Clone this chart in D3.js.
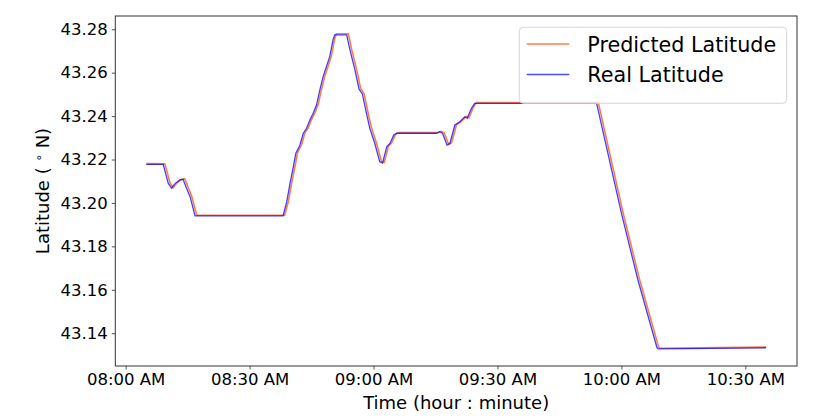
<!DOCTYPE html>
<html><head><meta charset="utf-8">
<script src="https://cdn.jsdelivr.net/npm/d3@7"></script>
<style>body{margin:0;background:#fff}svg{display:block;font-family:"DejaVu Sans",sans-serif}</style>
</head><body><svg id="c" width="831" height="419"></svg>
<script>
const realTimes = ["08:05:00","08:09:06","08:10:18","08:11:06","08:11:54","08:13:06","08:13:54","08:14:36","08:15:36","08:16:48",
"08:38:06","08:39:00","08:39:48","08:40:36","08:41:12","08:42:12","08:43:00","08:43:48","08:44:36","08:45:24",
"08:46:12","08:47:00","08:47:48","08:48:36","08:49:24","08:50:12","08:50:36","08:53:30","08:54:18","08:55:30",
"08:56:30","08:57:18","08:58:18","08:59:06","09:00:18","09:01:30","09:02:12","09:03:12","09:04:00","09:04:54",
"09:05:36","09:15:12","09:16:00","09:16:42","09:17:48","09:18:30","09:19:42","09:20:54","09:22:06","09:22:42",
"09:23:42","09:24:30","09:54:00","10:00:00","10:04:00","10:08:36","10:08:54","10:35:00"];
const realLat = [43.2178,43.2178,43.2091,43.2068,43.2088,43.2106,43.2109,43.2075,43.2029,43.1940,
43.1940,43.2006,43.2091,43.2167,43.2229,43.2267,43.2321,43.2344,43.2382,43.2413,
43.2451,43.2520,43.2582,43.2628,43.2674,43.2751,43.2774,43.2774,43.2705,43.2613,
43.2524,43.2502,43.2413,43.2344,43.2275,43.2190,43.2184,43.2259,43.2275,43.2313,
43.2321,43.2321,43.2328,43.2321,43.2267,43.2275,43.2359,43.2374,43.2397,43.2390,
43.2436,43.2459,43.2459,43.1953,43.1645,43.1334,43.1328,43.1333];
const predTimes = ["08:05:00","08:09:30","08:10:42","08:11:30","08:12:18","08:13:30","08:14:18","08:15:00","08:16:00","08:17:12",
"08:38:30","08:39:24","08:40:12","08:41:00","08:41:36","08:42:36","08:43:24","08:44:12","08:45:00","08:45:48",
"08:46:36","08:47:24","08:48:12","08:49:00","08:49:48","08:50:36","08:51:00","08:53:54","08:54:42","08:55:54",
"08:56:54","08:57:42","08:58:42","08:59:30","09:00:42","09:01:54","09:02:36","09:03:36","09:04:24","09:05:18",
"09:06:00","09:15:36","09:16:24","09:17:06","09:18:12","09:18:54","09:20:06","09:21:18","09:22:30","09:23:06",
"09:24:06","09:24:54","09:54:24","10:00:24","10:04:24","10:09:00","10:09:18","10:35:00"];
const predLat = [43.2181,43.2180,43.2094,43.2070,43.2090,43.2108,43.2112,43.2078,43.2031,43.1943,
43.1943,43.2008,43.2093,43.2169,43.2231,43.2269,43.2323,43.2346,43.2384,43.2415,
43.2453,43.2522,43.2584,43.2630,43.2676,43.2756,43.2779,43.2779,43.2708,43.2615,
43.2526,43.2504,43.2415,43.2346,43.2277,43.2192,43.2187,43.2261,43.2277,43.2315,
43.2324,43.2324,43.2330,43.2323,43.2269,43.2277,43.2361,43.2376,43.2399,43.2392,
43.2438,43.2462,43.2462,43.1955,43.1647,43.1337,43.1331,43.1336];
const yTicks = [43.14,43.16,43.18,43.20,43.22,43.24,43.26,43.28];
const xTickLabels = ["08:00","08:30","09:00","09:30","10:00","10:30"];
const seriesNames = ["Predicted Latitude","Real Latitude"];
const seriesColors = ["orangered","blue"];

const parse = d3.timeParse("%H:%M:%S");
const parseHM = d3.timeParse("%H:%M");
const svg = d3.select("#c");
const L = 115.3, R = 797, T = 16, B = 366;
const x = d3.scaleTime().domain([parse("07:57:30"), parse("10:42:30")]).range([L, R]);
const y = d3.scaleLinear().domain([43.1249, 43.2861]).range([B, T]);

const real = realTimes.map((t,i)=>({t:parse(t), v:realLat[i]}));
const pred = predTimes.map((t,i)=>({t:parse(t), v:predLat[i]}));
const line = d3.line().x(d=>x(d.t)).y(d=>y(d.v));

const g = svg.append("g");
g.append("path").datum(pred).attr("d", line).attr("fill","none")
  .attr("stroke", seriesColors[0]).attr("stroke-opacity",0.7).attr("stroke-width",1.6);
g.append("path").datum(real).attr("d", line).attr("fill","none")
  .attr("stroke", seriesColors[1]).attr("stroke-opacity",0.75).attr("stroke-width",1.3);

// axes
const xAxis = d3.axisBottom(x).tickValues(xTickLabels.map(parseHM))
  .tickFormat(d3.timeFormat("%I:%M %p")).tickSize(3.5).tickPadding(4);
const gx = svg.append("g").attr("transform",`translate(0,${B})`).call(xAxis);
gx.select(".domain").remove();
gx.selectAll("line").attr("stroke","#555");
gx.selectAll("text").attr("font-size",16.5).attr("fill","#000").attr("font-family","DejaVu Sans");

const yAxis = d3.axisLeft(y).tickValues(yTicks).tickFormat(d3.format(".2f")).tickSize(3.5).tickPadding(4);
const gy = svg.append("g").attr("transform",`translate(${L},0)`).call(yAxis);
gy.select(".domain").remove();
gy.selectAll("line").attr("stroke","#555");
gy.selectAll("text").attr("font-size",16.5).attr("fill","#000").attr("font-family","DejaVu Sans");

svg.append("rect").attr("x",L).attr("y",T).attr("width",R-L).attr("height",B-T)
  .attr("fill","none").attr("stroke","#333").attr("stroke-width",1);

// labels
svg.append("text").attr("x",(L+R)/2).attr("y",409).attr("text-anchor","middle")
  .attr("font-size",18).text("Time (hour : minute)");
const yl = svg.append("text").attr("transform",`translate(48.5,${(T+B)/2}) rotate(-90)`)
  .attr("text-anchor","middle").attr("font-size",18);
yl.append("tspan").text("Latitude ( ");
yl.append("tspan").attr("font-size",12).attr("dy",-6).text("∘");
yl.append("tspan").attr("dy",6).text(" N)");

// legend
const lg = svg.append("g");
lg.append("rect").attr("x",519.3).attr("y",27.3).attr("width",267.4).attr("height",76)
  .attr("rx",4).attr("fill","#fff").attr("fill-opacity",0.8).attr("stroke","#d6d6d6");
seriesNames.forEach((n,i)=>{
  const yy = 44 + i*30.5;
  lg.append("line").attr("x1",526.7).attr("x2",569.3).attr("y1",yy).attr("y2",yy)
    .attr("stroke",seriesColors[i]).attr("stroke-opacity",0.7).attr("stroke-width",1.3);
  lg.append("text").attr("x",587.3).attr("y",yy+7.5).attr("font-size",20.7).text(n);
});
</script></body></html>
